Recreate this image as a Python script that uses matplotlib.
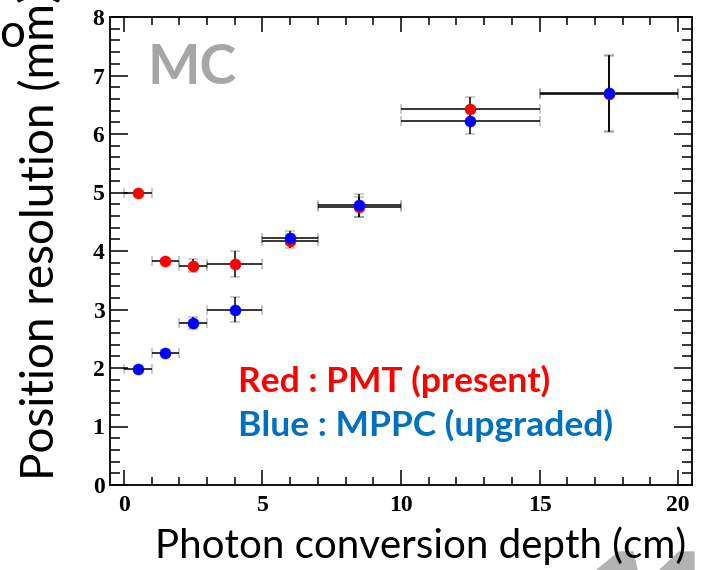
import matplotlib
matplotlib.use('Agg')
import matplotlib.pyplot as plt
from matplotlib.patches import Polygon
from matplotlib.ticker import MultipleLocator

# photon conversion depth bins (cm)
depth = [0.5, 1.5, 2.5, 4.0, 6.0, 8.5, 12.5, 17.5]
depth_err = [0.5, 0.5, 0.5, 1.0, 1.0, 1.5, 2.5, 2.5]

# position resolution (mm)
pmt_res = [5.00, 3.83, 3.75, 3.78, 4.17, 4.75, 6.42, 6.68]
pmt_err = [0.03, 0.04, 0.11, 0.22, 0.12, 0.17, 0.22, 0.65]
mppc_res = [1.99, 2.26, 2.77, 3.00, 4.23, 4.78, 6.22, 6.70]
mppc_err = [0.03, 0.04, 0.11, 0.22, 0.11, 0.20, 0.22, 0.65]

sans = ['Lato', 'DejaVu Sans']

# ROOT-ish tick labels: bold Times
plt.rcParams['font.family'] = 'Liberation Serif'
plt.rcParams['font.weight'] = 'bold'

fig = plt.figure(figsize=(7.05, 5.7), dpi=100)
ax = fig.add_axes([110/705, 1 - 485/570, 582/705, 468/570])

for y, yerr, col in [(pmt_res, pmt_err, '#ff0000'), (mppc_res, mppc_err, '#0000ff')]:
    ax.errorbar(depth, y, xerr=depth_err, yerr=yerr, fmt='o', color=col,
                ms=8, mfc=col, mec=col, mew=0.3, ecolor='black',
                elinewidth=1.1, capsize=3.5, capthick=1.3, zorder=3)

ax.set_xlim(-0.5, 20.5)
ax.set_ylim(0, 8)
ax.xaxis.set_major_locator(MultipleLocator(5))
ax.xaxis.set_minor_locator(MultipleLocator(1))
ax.yaxis.set_major_locator(MultipleLocator(1))
ax.yaxis.set_minor_locator(MultipleLocator(0.2))
ax.tick_params(axis='both', which='both', direction='in', top=True, right=True,
               width=1.1, color='black', labelsize=17,
               labelfontfamily='Liberation Serif')
ax.tick_params(axis='x', which='major', length=11, pad=7)
ax.tick_params(axis='x', which='minor', length=6)
ax.tick_params(axis='y', which='major', length=13, pad=4)
ax.tick_params(axis='y', which='minor', length=7)
for s in ax.spines.values():
    s.set_linewidth(1.3)

fig.text(147/705, 1 - 68/570, 'MC', family=sans, fontsize=40,
         fontweight='bold', color='#a6a6a6', va='center', ha='left')

fig.text(238/705, 1 - 381/570, 'Red : PMT (present)', family=sans, fontsize=25.5,
         fontweight='bold', color='#ff0000', va='center', ha='left')
fig.text(238/705, 1 - 425/570, 'Blue : MPPC (upgraded)', family=sans, fontsize=25.5,
         fontweight='bold', color='#0070c0', va='center', ha='left')

fig.text(421/705, 1 - 546/570, 'Photon conversion depth (cm)', family=sans,
         fontsize=29, fontweight='normal', ha='center', va='center')
fig.text(41/705, 1 - 480/570, 'Position resolution (mm)', family=sans,
         fontsize=33, fontweight='normal', rotation=90, ha='center', va='bottom')
fig.text(12/705, 1 - 34/570, 'o', family=sans, fontsize=33, fontweight='normal',
         ha='center', va='center')

# grey slide decoration in the bottom right corner
for pts in [[(597, 570), (619, 552), (633, 552), (637, 570)],
            [(660, 570), (679, 552), (694, 552), (694, 570)]]:
    fig.patches.append(Polygon([(px/705, 1 - py/570) for px, py in pts], closed=True,
                               transform=fig.transFigure, color='#b3b3b3', zorder=-1))

fig.savefig('out.png', dpi=100)
